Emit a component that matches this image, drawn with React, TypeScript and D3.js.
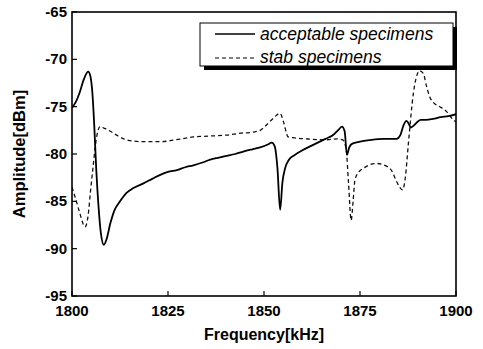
import React from 'react';
import * as d3 from 'd3';

// frequency [kHz] / amplitude [dBm]
const acceptFreq = [1800, 1801, 1802, 1803, 1804.2, 1804.8, 1805.3, 1805.8, 1806.3, 1806.9, 1807.5, 1808.3, 1809, 1810, 1811, 1812.5, 1814.2, 1816, 1818.6, 1821, 1823, 1825, 1827.3, 1829.5, 1831.6, 1834, 1836, 1838, 1840.3, 1842.5, 1844.6, 1847, 1849, 1851, 1852, 1852.8, 1853.5, 1854.2, 1854.8, 1855.5, 1856.5, 1858, 1860, 1862, 1864, 1866, 1868, 1869.5, 1870.3, 1871, 1871.6, 1872.2, 1873, 1875, 1878, 1881, 1884.5, 1885.5, 1886.3, 1887.1, 1887.7, 1888.2, 1889, 1890, 1890.8, 1892, 1894, 1896, 1898, 1900];
const acceptAmp = [-75.1, -74.5, -73.5, -72.2, -71.3, -71.8, -73.5, -77, -81.5, -85.5, -88.3, -89.6, -89.0, -87.3, -86.0, -85.0, -84.1, -83.6, -83.1, -82.6, -82.2, -81.9, -81.7, -81.4, -81.2, -80.9, -80.6, -80.4, -80.2, -80.0, -79.75, -79.5, -79.3, -79.0, -78.8, -79.2, -81.5, -85.9, -83, -81.5, -80.6, -80.1, -79.6, -79.2, -78.8, -78.4, -78.0, -77.4, -77.1, -77.6, -80.1, -79.3, -78.9, -78.7, -78.5, -78.4, -78.4, -78.0, -77.0, -76.5, -76.8, -77.2, -77.0, -76.6, -76.4, -76.4, -76.3, -76.1, -76.0, -75.8];

const stabFreq = [1800, 1801, 1802, 1803.4, 1804.2, 1804.8, 1805.5, 1806.3, 1807.3, 1808.5, 1810, 1812, 1814.2, 1818.5, 1823, 1827, 1831.6, 1836, 1840.3, 1844, 1847, 1849, 1850.7, 1852.5, 1854.2, 1855, 1856.3, 1858, 1861, 1866, 1869, 1870.5, 1871.4, 1872, 1872.7, 1873.2, 1873.7, 1874.7, 1875.9, 1879.3, 1882, 1883.3, 1884.3, 1885.3, 1886.1, 1886.8, 1887.6, 1888.9, 1889.6, 1890.5, 1891.5, 1892.3, 1893.2, 1894.2, 1895.8, 1897.5, 1899.3, 1900];
const stabAmp = [-83.5, -84.8, -86.2, -87.7, -86.5, -84, -81.3, -78.5, -77.1, -77.3, -77.6, -78.1, -78.5, -78.7, -78.7, -78.5, -78.2, -78.1, -78.0, -77.8, -77.7, -77.5, -76.9, -76.2, -75.7, -76.5, -78.2, -78.3, -78.4, -78.5, -78.4, -78.5, -79.5, -83, -87.0, -85, -82.7, -81.9, -81.5, -81.0, -81.3, -81.8, -82.7, -83.5, -83.8, -82.5, -78.9, -73.6, -72.0, -71.2, -71.5, -72.8, -74.0, -74.6, -75.0, -75.5, -76.4, -76.6];

const xTicks = [1800, 1825, 1850, 1875, 1900];
const yTicks = [-95, -90, -85, -80, -75, -70, -65];
const seriesNames = ['acceptable specimens', 'stab specimens'];

const W = 483;
const H = 349;
const margin = { top: 12, right: 27, bottom: 53, left: 72 };
const font = '"Liberation Sans", Arial, sans-serif';

export default function App() {
  const x = d3.scaleLinear().domain([1800, 1900]).range([margin.left, W - margin.right]);
  const y = d3.scaleLinear().domain([-95, -65]).range([H - margin.bottom, margin.top]);

  const line = d3.line<[number, number]>()
    .x(d => x(d[0]))
    .y(d => y(d[1]))
    .curve(d3.curveMonotoneX);

  const accept = acceptFreq.map((f, i) => [f, acceptAmp[i]] as [number, number]);
  const stab = stabFreq.map((f, i) => [f, stabAmp[i]] as [number, number]);

  const x0 = x(1800), x1 = x(1900), y0 = y(-95), y1 = y(-65);

  // legend box
  const lg = { x: 200, y: 23, w: 253, h: 43 };

  return (
    <svg width={W} height={H} style={{ position: 'absolute', left: 0, top: 0, background: '#fff' }}
      fontFamily={font}>
      <defs>
        <clipPath id="plot">
          <rect x={x0} y={y1} width={x1 - x0} height={y0 - y1} />
        </clipPath>
      </defs>

      <g clipPath="url(#plot)">
        <path d={line(stab) || ''} fill="none" stroke="#111" strokeWidth={1.3} strokeDasharray="4,3" />
        <path d={line(accept) || ''} fill="none" stroke="#000" strokeWidth={1.8} />
      </g>

      {/* frame */}
      <rect x={x0} y={y1} width={x1 - x0} height={y0 - y1} fill="none" stroke="#000" strokeWidth={1.6} />

      {/* ticks, inward */}
      {xTicks.map(t => (
        <g key={'x' + t}>
          <line x1={x(t)} x2={x(t)} y1={y0} y2={y0 - 5} stroke="#000" strokeWidth={1.2} />
          <text x={x(t)} y={y0 + 20} textAnchor="middle" fontSize={15} fontWeight="bold">{t}</text>
        </g>
      ))}
      {yTicks.map(t => (
        <g key={'y' + t}>
          <line x1={x0} x2={x0 + 5} y1={y(t)} y2={y(t)} stroke="#000" strokeWidth={1.2} />
          <text x={x0 - 5} y={y(t) + 5} textAnchor="end" fontSize={15} fontWeight="bold">{t}</text>
        </g>
      ))}

      {/* axis titles */}
      <text x={(x0 + x1) / 2} y={340} textAnchor="middle" fontSize={16} fontWeight="bold">Frequency[kHz]</text>
      <text transform={`translate(25,${(y0 + y1) / 2}) rotate(-90)`} textAnchor="middle" fontSize={16.5} fontWeight="bold">Amplitude[dBm]</text>

      {/* legend */}
      <rect x={lg.x + 4} y={lg.y + 4} width={lg.w} height={lg.h} fill="#000" />
      <rect x={lg.x} y={lg.y} width={lg.w} height={lg.h} fill="#fff" stroke="#000" strokeWidth={1} />
      <line x1={215} x2={255} y1={34} y2={34} stroke="#000" strokeWidth={1.5} />
      <text x={260} y={40} fontSize={17.5} fontStyle="italic">{seriesNames[0]}</text>
      <line x1={215} x2={255} y1={58} y2={58} stroke="#000" strokeWidth={1.2} strokeDasharray="4,3" />
      <text x={260} y={63} fontSize={17.5} fontStyle="italic">{seriesNames[1]}</text>
    </svg>
  );
}
